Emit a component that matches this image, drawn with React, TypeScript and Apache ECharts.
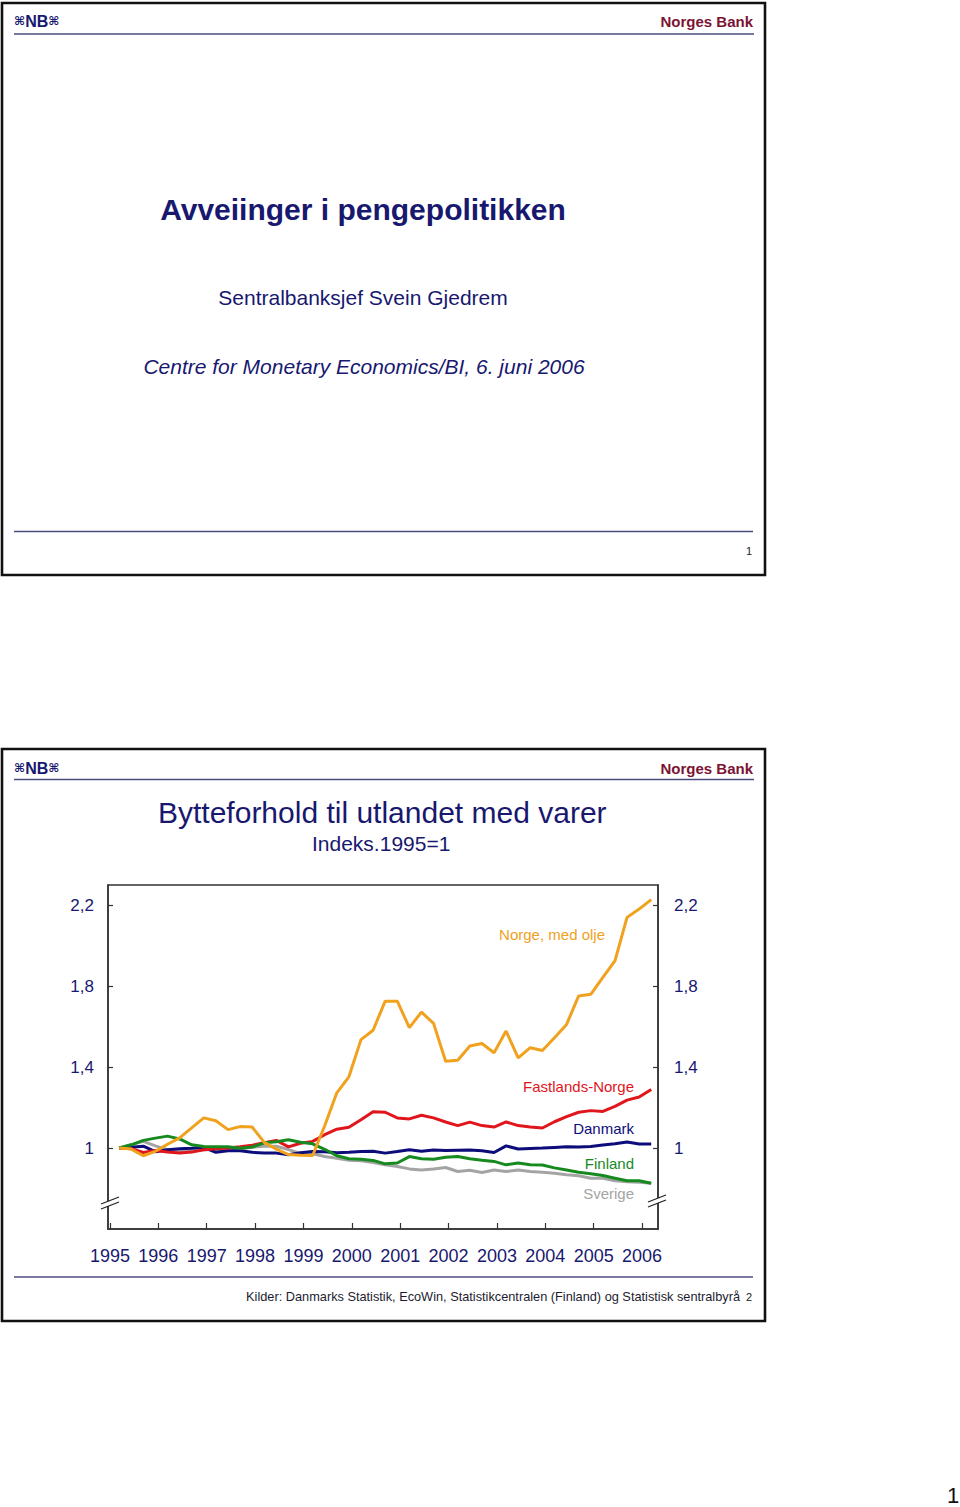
import React, { useEffect, useRef } from "react";
import * as echarts from "echarts";

// ---------- data ----------
const quarters = [
  "1995K1","1995K2","1995K3","1995K4","1996K1","1996K2","1996K3","1996K4",
  "1997K1","1997K2","1997K3","1997K4","1998K1","1998K2","1998K3","1998K4",
  "1999K1","1999K2","1999K3","1999K4","2000K1","2000K2","2000K3","2000K4",
  "2001K1","2001K2","2001K3","2001K4","2002K1","2002K2","2002K3","2002K4",
  "2003K1","2003K2","2003K3","2003K4","2004K1","2004K2","2004K3","2004K4",
  "2005K1","2005K2","2005K3","2005K4","2006K1",
];

const norgeMedOlje = [
  1.000, 0.995, 0.962, 0.984, 1.019, 1.050, 1.100, 1.149, 1.135, 1.091,
  1.106, 1.104, 1.028, 0.995, 0.968, 0.964, 0.963, 1.110, 1.273, 1.352,
  1.536, 1.582, 1.726, 1.726, 1.595, 1.672, 1.616, 1.429, 1.434, 1.504,
  1.517, 1.471, 1.578, 1.446, 1.496, 1.482, 1.545, 1.611, 1.752, 1.760,
  1.843, 1.925, 2.140, 2.181, 2.228,
];

const fastlandsNorge = [
  1.000, 0.997, 0.978, 0.988, 0.980, 0.975, 0.980, 0.992, 0.997, 1.000,
  1.006, 1.014, 1.026, 1.038, 1.006, 1.024, 1.033, 1.066, 1.093, 1.103,
  1.140, 1.180, 1.177, 1.149, 1.144, 1.162, 1.149, 1.129, 1.111, 1.128,
  1.111, 1.104, 1.129, 1.111, 1.104, 1.099, 1.130, 1.155, 1.177, 1.185,
  1.181, 1.206, 1.237, 1.252, 1.289,
];

const danmark = [
  1.000, 1.004, 1.009, 0.982, 0.992, 0.997, 0.999, 1.004, 0.979, 0.987,
  0.987, 0.979, 0.975, 0.975, 0.967, 0.977, 0.983, 0.982, 0.977, 0.979,
  0.983, 0.984, 0.975, 0.983, 0.992, 0.984, 0.990, 0.988, 0.989, 0.990,
  0.987, 0.978, 1.011, 0.995, 0.998, 1.000, 1.003, 1.006, 1.005, 1.008,
  1.015, 1.021, 1.030, 1.020, 1.020,
];

const finland = [
  1.000, 1.016, 1.038, 1.049, 1.059, 1.045, 1.016, 1.008, 1.006, 1.006,
  0.999, 1.005, 1.026, 1.031, 1.041, 1.029, 1.021, 0.994, 0.962, 0.947,
  0.945, 0.939, 0.922, 0.926, 0.958, 0.947, 0.945, 0.955, 0.958, 0.947,
  0.940, 0.934, 0.917, 0.926, 0.917, 0.916, 0.902, 0.892, 0.880, 0.873,
  0.864, 0.851, 0.838, 0.838, 0.826,
];

const sverige = [
  1.000, 1.016, 1.033, 1.011, 0.992, 0.988, 0.989, 0.992, 0.992, 0.994,
  0.997, 1.004, 1.009, 1.009, 0.992, 0.974, 0.972, 0.958, 0.950, 0.940,
  0.937, 0.929, 0.917, 0.909, 0.897, 0.892, 0.897, 0.904, 0.884, 0.890,
  0.879, 0.892, 0.884, 0.892, 0.884, 0.881, 0.876, 0.868, 0.863, 0.851,
  0.851, 0.838, 0.834, 0.831, 0.826,
];

const yearTicks = [1995, 1996, 1997, 1998, 1999, 2000, 2001, 2002, 2003, 2004, 2005, 2006];
const valueTicks = [1, 1.4, 1.8, 2.2];

// ---------- styling ----------
const FONT = '"Liberation Sans", Arial, Helvetica, sans-serif';
const NAVY = "#18186f";
const MAROON = "#7b1434";
const RULE = "#4c4c7c";
const C_ORANGE = "#f0a11e";
const C_RED = "#e1151c";
const C_NAVY = "#0c0c7a";
const C_GREEN = "#178a1f";
const C_GREY = "#a4a4a4";

const qx = (q: string) => {
  const y = parseInt(q.slice(0, 4), 10);
  const k = parseInt(q.slice(5), 10);
  return y + (k - 1) / 4 + 0.19;
};

const toPoints = (vals: number[]) => quarters.map((q, i) => [qx(q), vals[i]]);

const fmtVal = (v: number) =>
  Math.abs(v - Math.round(v)) < 1e-6 ? String(Math.round(v)) : v.toFixed(1).replace(".", ",");

function txt(x: number, y: number, text: string, opts: any = {}) {
  return {
    type: "text",
    x,
    y,
    z: 100,
    style: {
      text,
      fill: opts.fill || NAVY,
      fontSize: opts.fontSize || 15,
      fontFamily: FONT,
      fontWeight: opts.fontWeight || "normal",
      fontStyle: opts.fontStyle || "normal",
      textAlign: opts.align || "left",
      textVerticalAlign: "middle",
    },
  };
}

function hline(x1: number, x2: number, y: number) {
  return {
    type: "line",
    z: 100,
    shape: { x1, y1: y, x2, y2: y },
    style: { stroke: RULE, lineWidth: 1.6 },
  };
}

function logo(x: number, y: number) {
  return {
    type: "text",
    x,
    y,
    z: 100,
    style: {
      text: "{o|⌘}{n|NB}{o|⌘}",
      textVerticalAlign: "middle",
      rich: {
        o: { fontFamily: '"DejaVu Sans", sans-serif', fontSize: 12, fill: NAVY, fontWeight: "bold" },
        n: { fontFamily: FONT, fontSize: 16, fontWeight: "bold", fill: NAVY },
      },
    },
  };
}

function slideFrame(x: number, y: number, w: number, h: number) {
  return {
    type: "rect",
    z: 100,
    shape: { x, y, width: w, height: h },
    style: { fill: "transparent", stroke: "#111", lineWidth: 2.6 },
  };
}

function breakMark(x1: number, x2: number, yA: number, yB: number, gap: number) {
  // two parallel slanted strokes with a white band between
  return [
    {
      type: "polygon",
      z: 100,
      shape: { points: [[x1, yA], [x2, yB], [x2, yB + gap], [x1, yA + gap]] },
      style: { fill: "#ffffff", stroke: "none" },
    },
    {
      type: "line",
      z: 101,
      shape: { x1, y1: yA, x2, y2: yB },
      style: { stroke: "#222", lineWidth: 1.3 },
    },
    {
      type: "line",
      z: 101,
      shape: { x1, y1: yA + gap, x2, y2: yB + gap },
      style: { stroke: "#222", lineWidth: 1.3 },
    },
  ];
}

export default function App() {
  const ref = useRef<HTMLDivElement>(null);

  useEffect(() => {
    if (!ref.current) return;
    const chart = echarts.init(ref.current, undefined, { renderer: "svg" });

    const axisLineStyle = { color: "#333", width: 1.5 };

    const yAxisCommon = (position: "left" | "right", margin: number) => ({
      type: "value",
      position,
      min: 0.6,
      max: 2.3,
      axisLine: { show: true, lineStyle: axisLineStyle },
      axisTick: {
        show: true,
        inside: true,
        length: 5,
        customValues: valueTicks,
        lineStyle: { color: "#333", width: 1.2 },
      },
      axisLabel: {
        customValues: valueTicks,
        formatter: (v: number) => fmtVal(v),
        fontSize: 17,
        fontFamily: FONT,
        color: NAVY,
        margin,
      },
      splitLine: { show: false },
    });

    const line = (name: string, vals: number[], color: string, z: number) => ({
      name,
      type: "line",
      data: toPoints(vals),
      showSymbol: false,
      symbol: "none",
      z,
      lineStyle: { color, width: 3 },
      itemStyle: { color },
    });

    chart.setOption({
      animation: false,
      backgroundColor: "#ffffff",
      grid: {
        left: 108,
        top: 885,
        width: 550,
        height: 344,
        show: true,
        borderColor: "#333",
        borderWidth: 1.5,
        backgroundColor: "transparent",
      },
      xAxis: {
        type: "value",
        min: 1994.96,
        max: 2006.33,
        axisLine: { show: true, onZero: false, lineStyle: axisLineStyle },
        axisTick: {
          show: true,
          inside: true,
          length: 6,
          customValues: yearTicks,
          lineStyle: { color: "#333", width: 1.2 },
        },
        axisLabel: {
          customValues: yearTicks,
          formatter: (v: number) => String(Math.round(v)),
          fontSize: 18,
          fontFamily: FONT,
          color: NAVY,
          margin: 18,
        },
        splitLine: { show: false },
      },
      yAxis: [yAxisCommon("left", 14), yAxisCommon("right", 16)],
      series: [
        line("Sverige", sverige, C_GREY, 2),
        line("Danmark", danmark, C_NAVY, 3),
        line("Fastlands-Norge", fastlandsNorge, C_RED, 4),
        line("Finland", finland, C_GREEN, 5),
        line("Norge, med olje", norgeMedOlje, C_ORANGE, 6),
      ],
      graphic: [
        // ---- slide 1 ----
        slideFrame(2, 3, 763, 572),
        logo(14, 21),
        txt(753, 21, "Norges Bank", { fill: MAROON, fontWeight: "bold", fontSize: 15, align: "right" }),
        hline(14, 754, 34),
        txt(363, 209, "Avveiinger i pengepolitikken", { fontSize: 30, fontWeight: "bold", align: "center" }),
        txt(363, 297, "Sentralbanksjef Svein Gjedrem", { fontSize: 21, align: "center" }),
        txt(364, 366, "Centre for Monetary Economics/BI, 6. juni 2006", {
          fontSize: 21,
          fontStyle: "italic",
          align: "center",
        }),
        hline(14, 753, 531.5),
        txt(749, 551, "1", { fontSize: 11, fill: "#222", align: "center" }),
        // ---- slide 2 ----
        slideFrame(2, 749, 763, 572),
        logo(14, 768),
        txt(753, 768, "Norges Bank", { fill: MAROON, fontWeight: "bold", fontSize: 15, align: "right" }),
        hline(14, 754, 779.5),
        txt(158, 812, "Bytteforhold til utlandet med varer", { fontSize: 30 }),
        txt(312, 843, "Indeks.1995=1", { fontSize: 21 }),
        txt(605, 934, "Norge, med olje", { fill: C_ORANGE, fontSize: 15, align: "right" }),
        txt(634, 1086, "Fastlands-Norge", { fill: C_RED, fontSize: 15, align: "right" }),
        txt(634, 1128, "Danmark", { fill: C_NAVY, fontSize: 15, align: "right" }),
        txt(634, 1163, "Finland", { fill: C_GREEN, fontSize: 15, align: "right" }),
        txt(634, 1193, "Sverige", { fill: C_GREY, fontSize: 15, align: "right" }),
        ...breakMark(101, 119, 1204, 1197, 5),
        ...breakMark(648, 666, 1202, 1195, 5),
        hline(14, 753, 1277),
        txt(740, 1296, "Kilder: Danmarks Statistik, EcoWin, Statistikcentralen (Finland) og Statistisk sentralbyrå", {
          fontSize: 12.75,
          fill: "#1c1c30",
          align: "right",
        }),
        txt(749, 1297, "2", { fontSize: 11, fill: "#222", align: "center" }),
        // ---- page number ----
        txt(953, 1495, "1", { fontSize: 22, fill: "#111", align: "center" }),
      ],
    });

    return () => chart.dispose();
  }, []);

  return (
    <div
      ref={ref}
      style={{ position: "absolute", left: 0, top: 0, width: 960, height: 1507, background: "#fff" }}
    />
  );
}
